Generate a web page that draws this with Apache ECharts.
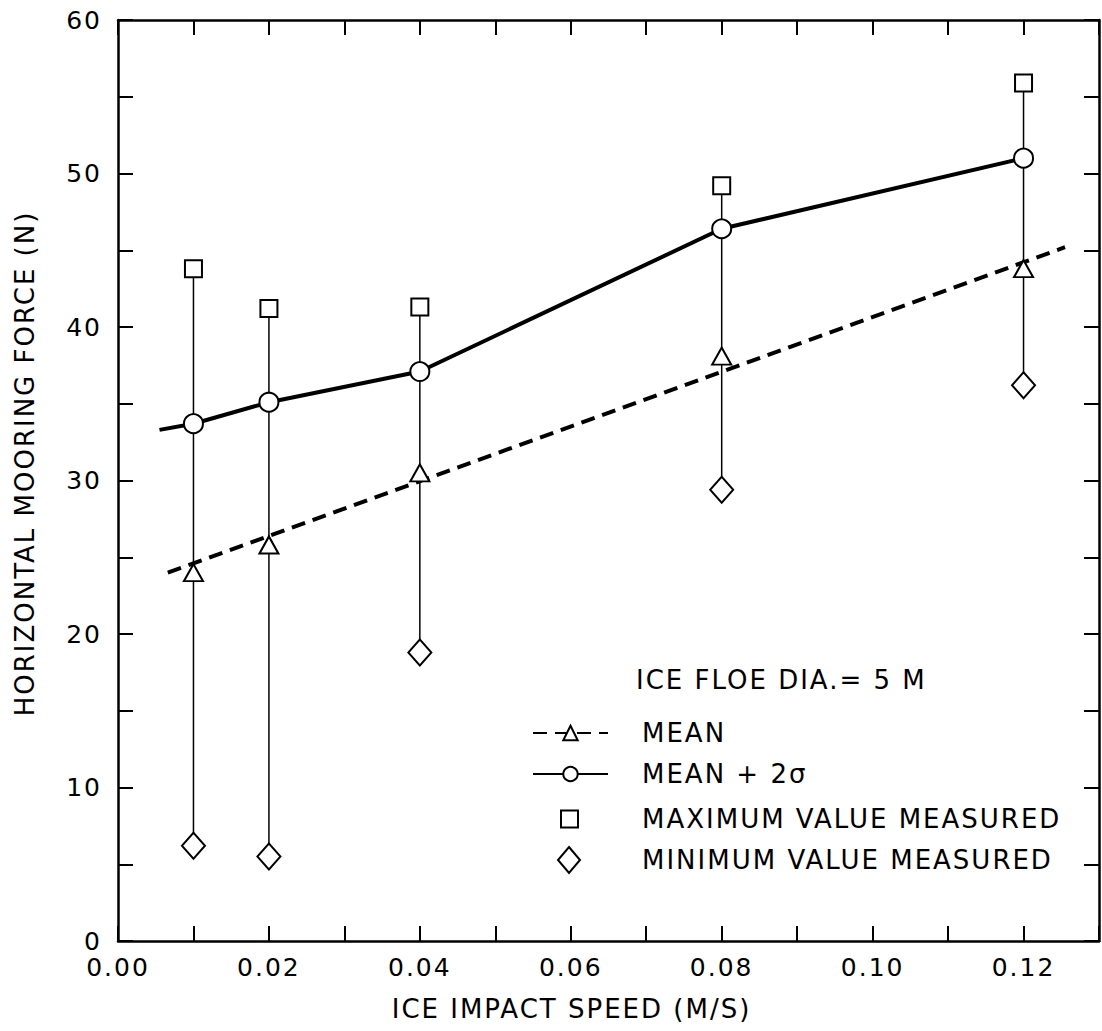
<!DOCTYPE html>
<html>
<head>
<meta charset="utf-8">
<script src="https://cdn.jsdelivr.net/npm/echarts@6/dist/echarts.min.js"></script>
<style>
  html, body { margin: 0; padding: 0; background: #fff; }
  #chart { width: 1102px; height: 1031px; }
  #chart text { letter-spacing: 2px; }
</style>
</head>
<body>
<div id="chart"></div>
<script>
// ---- data ----
const speeds      = [0.01, 0.02, 0.04, 0.08, 0.12];          // ice impact speed (m/s)
const meanVals    = [24.0, 25.8, 30.5, 38.1, 43.8];          // mean (triangles)
const mean2sVals  = [33.7, 35.1, 37.1, 46.4, 51.0];          // mean + 2 sigma (circles)
const maxVals     = [43.8, 41.2, 41.3, 49.2, 55.9];          // maximum value measured (squares)
const minVals     = [6.2, 5.5, 18.8, 29.4, 36.2];            // minimum value measured (diamonds)
const meanFitX    = [0.0066, 0.1255];                        // dashed mean fit line
const meanFitY    = [24.0, 45.2];
const mean2sLineX = [0.0055, 0.01, 0.02, 0.04, 0.08, 0.12];  // solid mean+2sigma line
const mean2sLineY = [33.3, 33.7, 35.1, 37.1, 46.4, 51.0];
const xTickLabels = ['0.00', '0.02', '0.04', '0.06', '0.08', '0.10', '0.12'];
const yTickLabels = ['0', '10', '20', '30', '40', '50', '60'];

const FONT = 'DejaVu Sans';
const zip = (a, b) => a.map((v, i) => [v, b[i]]);
const markerStyle = { color: '#fff', borderColor: '#000', borderWidth: 2, opacity: 1 };

const chart = echarts.init(document.getElementById('chart'), null, { renderer: 'svg' });

const xAxisCommon = {
  type: 'value', min: 0, max: 0.13, interval: 0.01,
  axisLine: { show: true, onZero: false, lineStyle: { color: '#000', width: 2.5 } },
  axisTick: { show: true, inside: true, length: 15, lineStyle: { color: '#000', width: 2 } },
  splitLine: { show: false }
};
const yAxisCommon = {
  type: 'value', min: 0, max: 60, interval: 5,
  axisLine: { show: true, onZero: false, lineStyle: { color: '#000', width: 2.5 } },
  axisTick: { show: true, inside: true, length: 15, lineStyle: { color: '#000', width: 2 } },
  splitLine: { show: false }
};

chart.setOption({
  animation: false,
  backgroundColor: '#fff',
  textStyle: { fontFamily: FONT, color: '#000' },
  grid: { left: 118, top: 20, width: 989, height: 921, containLabel: false },
  xAxis: [
    Object.assign({}, xAxisCommon, {
      position: 'bottom',
      name: 'ICE IMPACT SPEED (M/S)',
      nameLocation: 'middle', nameGap: 55,
      nameTextStyle: { fontSize: 26, fontFamily: FONT, color: '#000', padding: [0, 74, 0, 0] },
      axisLabel: {
        fontSize: 25, fontFamily: FONT, color: '#000', margin: 14,
        formatter: v => {
          const s = v.toFixed(2);
          return xTickLabels.indexOf(s) >= 0 ? s : '';
        }
      }
    }),
    Object.assign({}, xAxisCommon, { position: 'top', axisLabel: { show: false } })
  ],
  yAxis: [
    Object.assign({}, yAxisCommon, {
      position: 'left',
      name: 'HORIZONTAL MOORING FORCE (N)',
      nameLocation: 'middle', nameGap: 80,
      nameTextStyle: { fontSize: 26, fontFamily: FONT, color: '#000', padding: [0, 0, 0, 34] },
      axisLabel: {
        fontSize: 25, fontFamily: FONT, color: '#000', margin: 16,
        formatter: v => {
          const s = String(Math.round(v));
          return yTickLabels.indexOf(s) >= 0 ? s : '';
        }
      }
    }),
    Object.assign({}, yAxisCommon, { position: 'right', axisLabel: { show: false } })
  ],
  graphic: [
    {
      type: 'text', left: 636, top: 667, silent: true,
      style: { text: 'ICE FLOE DIA.= 5 M', font: '26px "DejaVu Sans"', fill: '#000' }
    }
  ],
  legend: [
    {
      data: ['MEAN', 'MEAN + 2σ'],
      orient: 'vertical', left: 527, top: 715,
      itemWidth: 75, itemHeight: 18, itemGap: 15,
      selectedMode: false,
      itemStyle: markerStyle,
      textStyle: { fontSize: 26, fontFamily: FONT, color: '#000', lineHeight: 26, padding: [0, 0, 0, 29] }
    },
    {
      data: ['MAXIMUM VALUE MEASURED'],
      orient: 'vertical', left: 555, top: 801,
      itemWidth: 17, itemHeight: 17,
      selectedMode: false,
      itemStyle: markerStyle,
      textStyle: { fontSize: 26, fontFamily: FONT, color: '#000', lineHeight: 26, padding: [0, 0, 0, 59] }
    },
    {
      data: ['MINIMUM VALUE MEASURED'],
      orient: 'vertical', left: 552, top: 841,
      itemWidth: 22, itemHeight: 26,
      selectedMode: false,
      itemStyle: markerStyle,
      textStyle: { fontSize: 26, fontFamily: FONT, color: '#000', lineHeight: 26, padding: [0, 0, 0, 57] }
    }
  ],
  series: [
    {
      // vertical range bars from minimum to maximum
      type: 'custom', name: 'range', silent: true, z: 1,
      data: speeds.map((s, i) => [s, minVals[i], maxVals[i]]),
      renderItem: (params, api) => {
        const p1 = api.coord([api.value(0), api.value(1)]);
        const p2 = api.coord([api.value(0), api.value(2)]);
        return { type: 'line', shape: { x1: p1[0], y1: p1[1], x2: p2[0], y2: p2[1] },
                 style: { stroke: '#000', lineWidth: 1.5 } };
      }
    },
    {
      type: 'line', name: 'MEAN', z: 2,
      data: zip(meanFitX, meanFitY),
      symbol: 'triangle', showSymbol: false, symbolSize: 14,
      itemStyle: markerStyle,
      lineStyle: { color: '#000', width: 4, type: [14, 8] }
    },
    {
      type: 'line', name: 'MEAN + 2σ', z: 2,
      data: zip(mean2sLineX, mean2sLineY),
      symbol: 'circle', showSymbol: false, symbolSize: 14,
      itemStyle: markerStyle,
      lineStyle: { color: '#000', width: 4 }
    },
    {
      type: 'scatter', name: 'mean points', z: 3,
      data: zip(speeds, meanVals),
      symbol: 'triangle', symbolSize: [19, 17], itemStyle: markerStyle
    },
    {
      type: 'scatter', name: 'mean+2σ points', z: 3,
      data: zip(speeds, mean2sVals),
      symbol: 'circle', symbolSize: 19, itemStyle: markerStyle
    },
    {
      type: 'scatter', name: 'MAXIMUM VALUE MEASURED', z: 3,
      data: zip(speeds, maxVals),
      symbol: 'rect', symbolSize: 17, itemStyle: markerStyle
    },
    {
      type: 'scatter', name: 'MINIMUM VALUE MEASURED', z: 3,
      data: zip(speeds, minVals),
      symbol: 'diamond', symbolSize: [23, 26], itemStyle: markerStyle
    }
  ]
});
</script>
</body>
</html>
